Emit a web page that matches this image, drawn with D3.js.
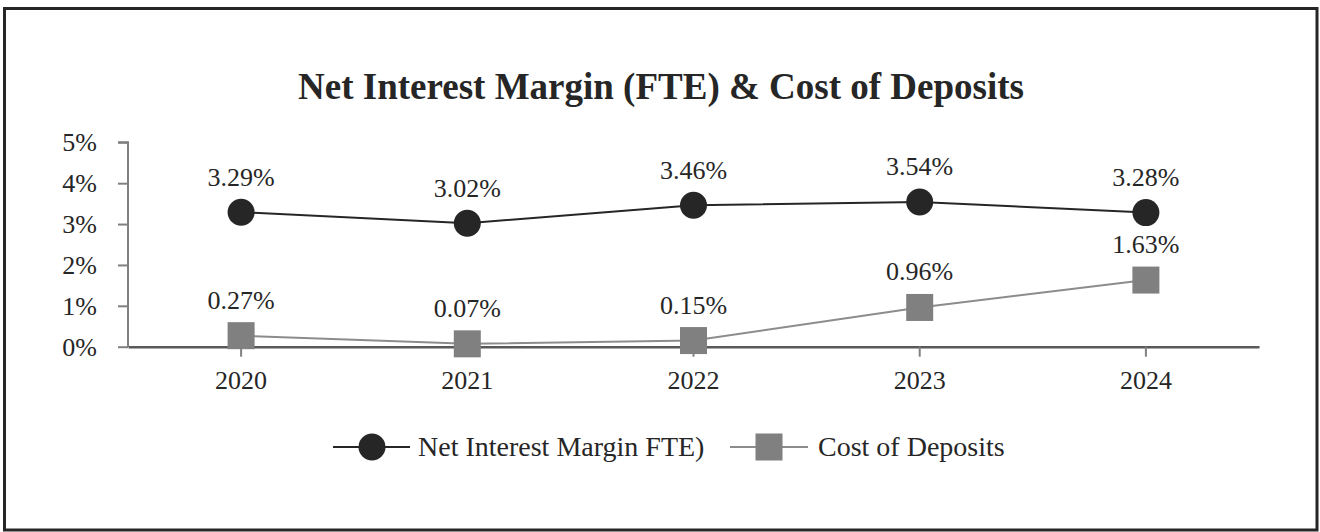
<!DOCTYPE html>
<html>
<head>
<meta charset="utf-8">
<script src="https://cdn.jsdelivr.net/npm/d3@7"></script>
<style>
html,body{margin:0;padding:0;background:#fff;}
svg{display:block;}
text{font-family:"Liberation Serif","Times New Roman",serif;fill:#262626;}
</style>
</head>
<body>
<svg id="chart" width="1320" height="532"></svg>
<script>
const title = "Net Interest Margin (FTE) & Cost of Deposits";
const years = ["2020","2021","2022","2023","2024"];
const nimValues = [3.29, 3.02, 3.46, 3.54, 3.28];
const costValues = [0.27, 0.07, 0.15, 0.96, 1.63];
const yTicks = [0, 1, 2, 3, 4, 5];
const seriesNames = ["Net Interest Margin FTE)", "Cost of Deposits"];

const svg = d3.select("#chart");

// frame
svg.append("rect").attr("x",4.5).attr("y",8.5).attr("width",1312.5).attr("height",521.5)
  .attr("fill","#fff").attr("stroke","#262626").attr("stroke-width",3);

// title
svg.append("text").attr("x",661).attr("y",99).attr("text-anchor","middle")
  .style("font-size","37px").style("font-weight","bold").text(title);

const x = d3.scaleBand().domain(years).range([128,1259]);
const y = d3.scaleLinear().domain([0,5]).range([346.7,142.3]);
const cx = d => x(d) + x.bandwidth()/2;

// y axis
const yAxis = svg.append("g").attr("transform","translate(128,0)")
  .call(d3.axisLeft(y).tickValues(yTicks).tickSize(10).tickPadding(21).tickFormat(d => d + "%"));
yAxis.attr("font-family",null);
yAxis.select(".domain").attr("stroke","#808080").attr("stroke-width",2).attr("d","M-10,142.3H0V346.7");
yAxis.selectAll(".tick line").attr("stroke","#808080").attr("stroke-width",2);
yAxis.selectAll(".tick text").style("font-size","26px").attr("fill","#262626").attr("dy","0.32em");

// x axis
const xAxis = svg.append("g").attr("transform","translate(0,346.7)")
  .call(d3.axisBottom(x).tickSize(10).tickPadding(10).tickSizeOuter(0));
xAxis.attr("font-family",null);
xAxis.select(".domain").attr("stroke","#595959").attr("stroke-width",2.5);
xAxis.selectAll(".tick line").attr("stroke","#808080").attr("stroke-width",2);
xAxis.selectAll(".tick text").style("font-size","26px").attr("fill","#262626").attr("dy","0.85em");

const line = d3.line().x(d => cx(d.year)).y(d => y(d.v));
const nim = years.map((yr,i) => ({year:yr, v:nimValues[i]}));
const cost = years.map((yr,i) => ({year:yr, v:costValues[i]}));

// cost series
svg.append("path").datum(cost).attr("d",line).attr("fill","none").attr("stroke","#8c8c8c").attr("stroke-width",2);
svg.selectAll("rect.cost").data(cost).enter().append("rect").attr("class","cost")
  .attr("x",d => cx(d.year)-13.5).attr("y",d => y(d.v)-13.5).attr("width",27).attr("height",27)
  .attr("fill","#808080");
svg.selectAll("text.costlab").data(cost).enter().append("text").attr("class","costlab")
  .attr("x",d => cx(d.year)).attr("y",d => y(d.v)-27).attr("text-anchor","middle")
  .style("font-size","26px").text(d => d.v.toFixed(2) + "%");

// nim series
svg.append("path").datum(nim).attr("d",line).attr("fill","none").attr("stroke","#262626").attr("stroke-width",2);
svg.selectAll("circle.nim").data(nim).enter().append("circle").attr("class","nim")
  .attr("cx",d => cx(d.year)).attr("cy",d => y(d.v)).attr("r",13.5).attr("fill","#262626");
svg.selectAll("text.nimlab").data(nim).enter().append("text").attr("class","nimlab")
  .attr("x",d => cx(d.year)).attr("y",d => y(d.v)-26.5).attr("text-anchor","middle")
  .style("font-size","26px").text(d => d.v.toFixed(2) + "%");

// legend
const ly = 447;
const lg1 = svg.append("g");
lg1.append("line").attr("x1",333).attr("x2",410).attr("y1",ly).attr("y2",ly).attr("stroke","#262626").attr("stroke-width",2);
lg1.append("circle").attr("cx",372).attr("cy",ly).attr("r",13.5).attr("fill","#262626");
lg1.append("text").attr("x",418).attr("y",ly+8.5).style("font-size","28px").text(seriesNames[0]);
const lg2 = svg.append("g");
lg2.append("line").attr("x1",730).attr("x2",808).attr("y1",ly).attr("y2",ly).attr("stroke","#8c8c8c").attr("stroke-width",2);
lg2.append("rect").attr("x",769-13.5).attr("y",ly-13.5).attr("width",27).attr("height",27).attr("fill","#808080");
lg2.append("text").attr("x",818).attr("y",ly+8.5).style("font-size","28px").text(seriesNames[1]);
</script>
</body>
</html>
